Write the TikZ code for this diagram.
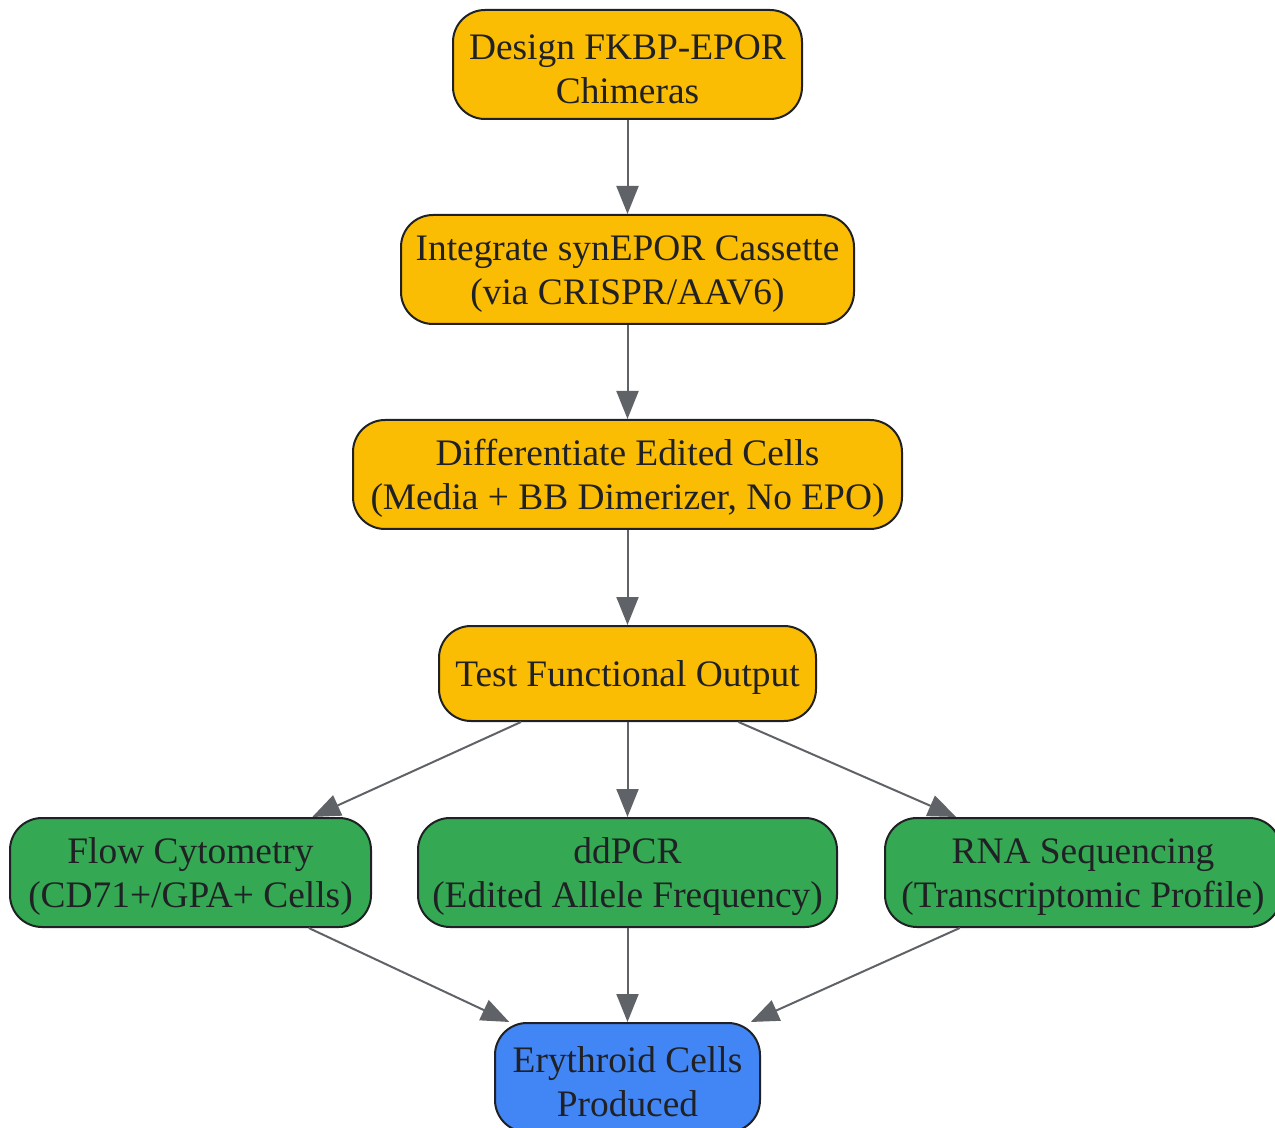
\documentclass[tikz,border=0pt]{standalone}
\usepackage{fontspec}
\setmainfont{Liberation Serif}
\usetikzlibrary{arrows.meta}
\definecolor{stepyellow}{HTML}{FBBC04}
\definecolor{assaygreen}{HTML}{34A853}
\definecolor{resultblue}{HTML}{4285F4}
\definecolor{edgegray}{HTML}{5F6368}
\definecolor{inkdark}{HTML}{202124}
\newcommand{\topgap}{\rule{0pt}{17pt}}
\tikzset{
  box/.style={draw=inkdark, line width=1pt, rounded corners=16pt, align=center,
    text=inkdark, font=\fontsize{18.7}{22}\selectfont, minimum height=54.5pt, inner sep=0pt},
  stepbox/.style={box, fill=stepyellow},
  assaybox/.style={box, fill=assaygreen},
  resultbox/.style={box, fill=resultblue},
  link/.style={draw=edgegray, line width=1pt, -{Triangle[length=14pt,width=11pt]}}
}
\begin{document}
\begin{tikzpicture}[x=0.5pt, y=-0.5pt]
\useasboundingbox (0,0) rectangle (1275,1128);
% workflow steps
\node (design) at (627.5,64.5) [stepbox, minimum width=174.5pt] {\topgap Design FKBP-EPOR\\Chimeras};
\node (integrate) at (627.5,269.5) [stepbox, minimum width=226.5pt] {\topgap Integrate synEPOR Cassette\\(via CRISPR/AAV6)};
\node (differentiate) at (627.5,474.5) [stepbox, minimum width=274.5pt] {\topgap Differentiate Edited Cells\\(Media + BB Dimerizer, No EPO)};
\node (test) at (627.5,673.5) [stepbox, minimum width=188.5pt, minimum height=47.5pt] {\topgap Test Functional Output};
% assays
\node (flow) at (190.5,872.5) [assaybox, minimum width=180.5pt] {\topgap Flow Cytometry\\(CD71+/GPA+ Cells)};
\node (ddpcr) at (627.5,872.5) [assaybox, minimum width=209.5pt] {\topgap ddPCR\\(Edited Allele Frequency)};
\node (rnaseq) at (1083,872.5) [assaybox, minimum width=198pt] {\topgap RNA Sequencing\\(Transcriptomic Profile)};
% result
\node (cells) at (627.5,1077.5) [resultbox, minimum width=132.5pt] {\topgap Erythroid Cells\\Produced};
\draw [link] (design) -- (integrate);
\draw [link] (integrate) -- (differentiate);
\draw [link] (differentiate) -- (test);
\draw [link] (test) -- (flow);
\draw [link] (test) -- (ddpcr);
\draw [link] (test) -- (rnaseq);
\draw [link] (flow) -- (cells);
\draw [link] (ddpcr) -- (cells);
\draw [link] (rnaseq) -- (cells);
\end{tikzpicture}
\end{document}
